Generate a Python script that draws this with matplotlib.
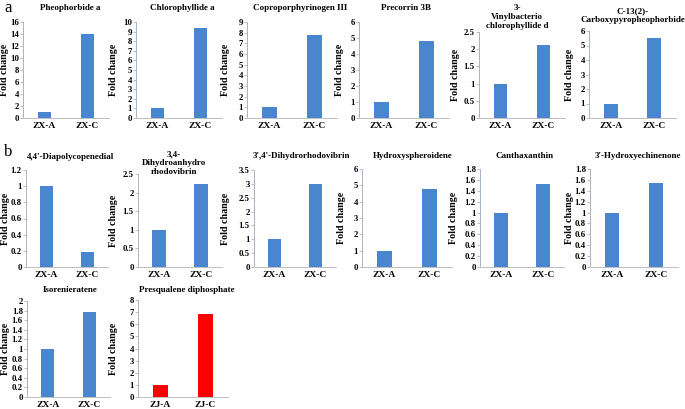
import matplotlib
matplotlib.use("Agg")
import matplotlib.pyplot as plt
import numpy as np

plt.rcParams["font.family"] = ["Liberation Serif", "DejaVu Serif"]
plt.rcParams["font.weight"] = "bold"

# panel data
titles = [
    "Pheophorbide a", "Chlorophyllide a", "Coproporphyrinogen III", "Precorrin 3B",
    "3-\nVinylbacterio\nchlorophyllide d", "C-13(2)-\nCarboxypyropheophorbide",
    "4,4'-Diapolycopenedial", "3,4-\nDihydroanhydro\nrhodovibrin",
    "3',4'-Dihydrorhodovibrin", "Hydroxyspheroidene", "Canthaxanthin",
    "3'-Hydroxyechinenone", "Isorenieratene", "Presqualene diphosphate",
]
groups = [["ZX-A", "ZX-C"]] * 13 + [["ZJ-A", "ZJ-C"]]
values = [
    [1, 14.0], [1, 9.38], [1, 7.78], [1, 4.82], [1, 2.13], [1, 5.52],
    [1, 0.18], [1, 2.23], [1, 3.0], [1, 4.78], [1, 1.52], [1, 1.55],
    [1, 1.77], [1, 6.85],
]
ymax = [16, 10, 9, 6, 2.5, 6, 1.2, 2.5, 3.5, 6, 1.8, 1.8, 2, 8]
ystep = [2, 1, 1, 1, 0.5, 1, 0.2, 0.5, 0.5, 1, 0.2, 0.2, 0.2, 1]
bar_colors = ["#4a86d0"] * 13 + ["#ff0000"]

# layout in pixels: left, top, width, bottom
W, H = 685, 409
boxes = [
    (23, 22, 86, 118), (136, 22, 86, 118), (247, 22, 90, 118), (359, 22, 90, 118),
    (479, 32, 86, 118), (589, 31, 87, 118),
    (26, 170, 82, 267), (138, 174, 84, 267), (254, 170, 82, 267), (362, 169, 90, 267),
    (480, 169, 84, 267), (590, 169, 88, 267),
    (27, 301, 83, 397), (138, 300, 90, 397),
]
ylabel_x = [5, 114, 226, 339, 456, 569, 6, 114, 226, 342, 454, 569, 6, 114]
title_pos = [
    (70, 8), (182, 8), (300, 8), (406, 8), (517, 17), (633, 16),
    (71, 157), (174, 163), (301, 156), (413, 156), (525, 156), (638, 156),
    (70, 290), (187, 290),
]

fig = plt.figure(figsize=(W / 100, H / 100), dpi=100)

for i in range(len(titles)):
    l, t, w, b = boxes[i]
    ax = fig.add_axes([l / W, 1 - b / H, w / W, (b - t) / H])
    x = np.arange(len(groups[i]))
    ax.bar(x, values[i], width=0.32, color=bar_colors[i])
    ax.set_xlim(-0.5, 1.5)
    ax.set_ylim(0, ymax[i])
    ticks = np.round(np.arange(0, ymax[i] + ystep[i] / 2, ystep[i]), 2)
    ax.set_yticks(ticks)
    ax.set_yticklabels([f"{v:g}" for v in ticks])
    ax.set_xticks(x)
    ax.set_xticklabels(groups[i])
    ax.tick_params(axis="y", labelsize=6.3, length=2, width=0.6, color="#a6b4c8", pad=1)
    ax.tick_params(axis="x", labelsize=6.8, length=0, pad=3)
    for s in ("top", "right"):
        ax.spines[s].set_visible(False)
    ax.spines["left"].set_color("#a6b4c8")
    ax.spines["bottom"].set_color("#bfbfbf")
    ax.spines["left"].set_linewidth(0.7)
    ax.spines["bottom"].set_linewidth(0.7)
    ax.set_ylabel("Fold change", fontsize=7.2, fontweight="bold", va="center")
    ax.yaxis.set_label_coords((ylabel_x[i] - l) / w, 0.5)
    tx, ty = title_pos[i]
    fig.text(tx / W, 1 - ty / H, titles[i], ha="center", va="center",
             fontsize=6.5, fontweight="bold", linespacing=1.15)

fig.text(4 / W, 1 - 8 / H, "a", fontsize=12, va="center", fontweight="normal")
fig.text(4 / W, 1 - 152 / H, "b", fontsize=12, va="center", fontweight="normal")

fig.savefig("out.png", dpi=100)
